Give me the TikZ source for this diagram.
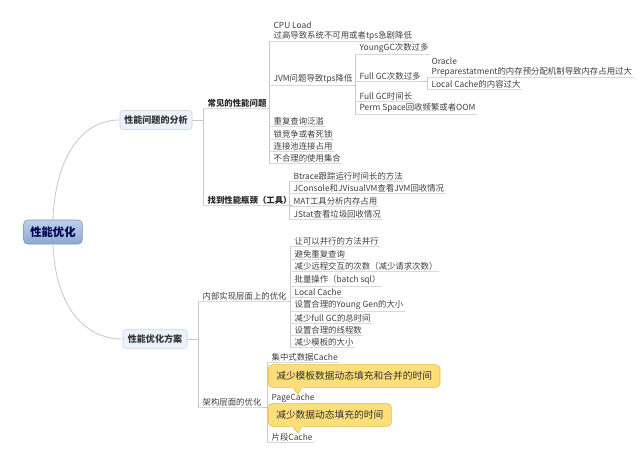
\documentclass[tikz,border=0pt]{standalone}
\usepackage{fontspec}
\setmainfont{Noto Sans CJK SC}
\definecolor{rtop}{RGB}{190,208,235}
\definecolor{rbot}{RGB}{140,168,210}
\definecolor{rbd}{RGB}{120,150,195}
\definecolor{bfill}{RGB}{236,242,250}
\definecolor{bbd}{RGB}{195,210,230}
\definecolor{cfill}{RGB}{253,222,120}
\definecolor{cbd}{RGB}{230,185,70}
\begin{document}
\begin{tikzpicture}[x=0.75pt,y=-0.75pt,
 ln/.style={draw=black!22,line width=0.6pt},
 ul/.style={draw=black!15,line width=0.6pt},
 lbl/.style={anchor=west,inner sep=1pt,font=\fontsize{6.3}{7.2}\selectfont,text=black!75,align=left},
 lb2/.style={lbl,font=\fontsize{6.3}{7.2}\selectfont\bfseries,text=black!85},
 box/.style={draw=bbd,fill=bfill,rounded corners=2pt,minimum height=14pt,inner sep=2pt,font=\fontsize{6.8}{8}\selectfont\bfseries,text=black!80},
 call/.style={draw=cbd,fill=cfill,rounded corners=3pt,inner xsep=6pt,inner ysep=3pt,anchor=west,minimum height=17pt,font=\fontsize{7.3}{8}\selectfont,text=black!80}]
\fill[white] (0,0) rectangle (640,464);
\node[draw=rbd,top color=rtop,bottom color=rbot,rounded corners=3pt,minimum width=44pt,minimum height=18pt,font=\fontsize{8.5}{10}\selectfont\bfseries,text=blue!30!black] (r) at (53,232) {性能优化};
\node[box,minimum width=54pt] (a) at (156,120) {性能问题的分析};
\node[box,minimum width=48pt] (b) at (155,339) {性能优化方案};
\draw[ln] (r.north) .. controls (55,160) and (80,120) .. (a.west);
\draw[ln] (r.south) .. controls (55,300) and (80,339) .. (b.west);
% level 2 under a
\node[lb2] (a1) at (206,103) {常见的性能问题};
\node[lb2] (a2) at (206,200) {找到性能瓶颈（工具）};
\coordinate (sa) at (203,0);
\draw[ln] (a.east) -- (a.east -| sa);
\draw[ln] (a1.south -| sa) -- (a2.south -| sa);
\foreach \n in {a1,a2} \draw[ul] (\n.south -| sa) -- (\n.south east);
% under a1
\node[lbl] (c1) at (272,31) {CPU Load\\过高导致系统不可用或者tps急剧降低};
\node[lbl] (c2) at (272,79) {JVM问题导致tps降低};
\node[lbl] (c3) at (272,121) {重复查询泛滥};
\node[lbl] (c4) at (272,134) {锁竞争或者死锁};
\node[lbl] (c5) at (272,146) {连接池连接占用};
\node[lbl] (c6) at (272,158) {不合理的使用集合};
\coordinate (sc) at (269,0);
\draw[ln] (a1.south east) -- (a1.south east -| sc);
\draw[ln] (c1.south -| sc) -- (c6.south -| sc);
\foreach \n in {c1,c2,c3,c4,c5,c6} \draw[ul] (\n.south -| sc) -- (\n.south east);
% under c2
\node[lbl] (d1) at (358,48) {YoungGC次数过多};
\node[lbl] (d2) at (358,76) {Full GC次数过多};
\node[lbl] (d3) at (358,96) {Full GC时间长};
\node[lbl] (d4) at (358,108) {Perm Space回收频繁或者OOM};
\coordinate (sd) at (355,0);
\draw[ln] (c2.south east) -- (c2.south east -| sd);
\draw[ln] (d1.south -| sd) -- (d4.south -| sd);
\foreach \n in {d1,d2,d3,d4} \draw[ul] (\n.south -| sd) -- (\n.south east);
% under d2
\node[lbl] (e1) at (430,67) {Oracle\\Preparestatment的内存预分配机制导致内存占用过大};
\node[lbl] (e2) at (430,84) {Local Cache的内容过大};
\coordinate (se) at (427,0);
\draw[ln] (d2.south east) -- (d2.south east -| se);
\draw[ln] (e1.south -| se) -- (e2.south -| se);
\foreach \n in {e1,e2} \draw[ul] (\n.south -| se) -- (\n.south east);
% under a2
\node[lbl] (f1) at (292,176) {Btrace跟踪运行时间长的方法};
\node[lbl] (f2) at (292,188) {JConsole和JVisualVM查看JVM回收情况};
\node[lbl] (f3) at (292,201) {MAT工具分析内存占用};
\node[lbl] (f4) at (292,214) {JStat查看垃圾回收情况};
\coordinate (sf) at (289,0);
\draw[ln] (a2.south east) -- (a2.south east -| sf);
\draw[ln] (f1.south -| sf) -- (f4.south -| sf);
\foreach \n in {f1,f2,f3,f4} \draw[ul] (\n.south -| sf) -- (\n.south east);
% under b
\node[lbl] (b1) at (201,296) {内部实现层面上的优化};
\node[lbl] (b2) at (201,402) {架构层面的优化};
\coordinate (sb) at (198,0);
\draw[ln] (b.east) -- (b.east -| sb);
\draw[ln] (b1.south -| sb) -- (b2.south -| sb);
\foreach \n in {b1,b2} \draw[ul] (\n.south -| sb) -- (\n.south east);
% under b1
\node[lbl] (g1) at (293,241) {让可以并行的方法并行};
\node[lbl] (g2) at (293,254) {避免重复查询};
\node[lbl] (g3) at (293,266) {减少远程交互的次数（减少请求次数）};
\node[lbl] (g4) at (293,280) {批量操作（batch sql）};
\node[lbl] (g5) at (293,292) {Local Cache};
\node[lbl] (g6) at (293,305) {设置合理的Young Gen的大小};
\node[lbl] (g7) at (293,318) {减少full GC的总时间};
\node[lbl] (g8) at (293,330) {设置合理的线程数};
\node[lbl] (g9) at (293,342) {减少模板的大小};
\coordinate (sg) at (290,0);
\draw[ln] (b1.south east) -- (b1.south east -| sg);
\draw[ln] (g1.south -| sg) -- (g9.south -| sg);
\foreach \n in {g1,g2,g3,g4,g5,g6,g7,g8,g9} \draw[ul] (\n.south -| sg) -- (\n.south east);
% under b2
\node[lbl] (h1) at (270,357) {集中式数据Cache};
\node[lbl] (h2) at (270,398) {PageCache};
\node[lbl] (h3) at (270,437) {片段Cache};
\coordinate (sh) at (267,0);
\draw[ln] (b2.south east) -- (b2.south east -| sh);
\draw[ln] (h1.south -| sh) -- (h3.south -| sh);
\foreach \n in {h1,h2,h3} \draw[ul] (\n.south -| sh) -- (\n.south east);
% callouts
\node[call] (k1) at (268,376) {减少模板数据动态填充和合并的时间};
\filldraw[fill=cfill,draw=cbd] (292,387) -- (298,394) -- (302,387);
\fill[cfill] (291,386) rectangle (303,387.5);
\node[call] (k2) at (268,415) {减少数据动态填充的时间};
\filldraw[fill=cfill,draw=cbd] (292,426) -- (298,433) -- (302,426);
\fill[cfill] (291,425) rectangle (303,426.5);
\end{tikzpicture}
\end{document}
